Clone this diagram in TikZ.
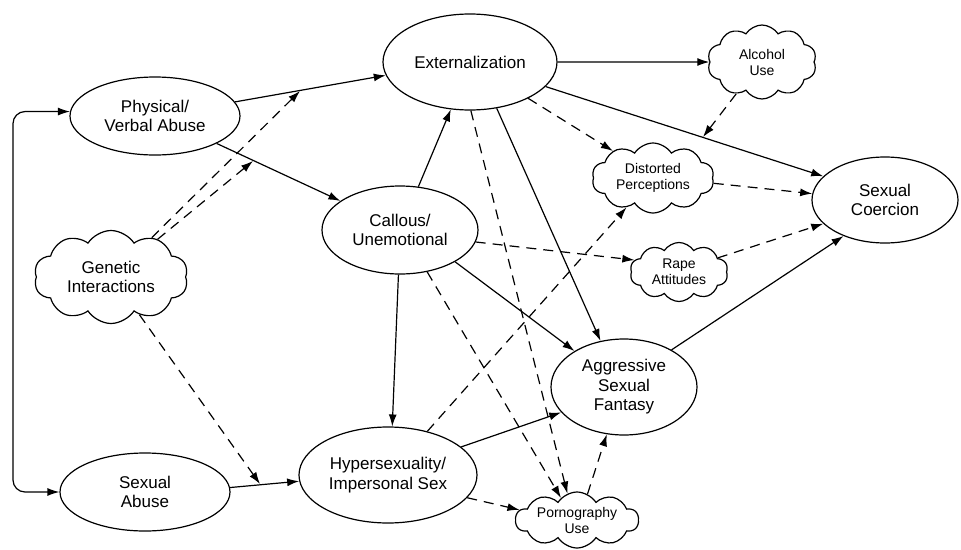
\documentclass[tikz,border=0pt]{standalone}
\usepackage{fontspec}
\setmainfont{Liberation Sans}
\usetikzlibrary{shapes.geometric,shapes.symbols,arrows.meta}
\begin{document}
\begin{tikzpicture}[x=1pt,y=-1pt,
  ell/.style={ellipse, draw, line width=1.2pt, inner sep=0pt, align=center, font=\fontsize{17}{19.5}\selectfont},
  cld/.style={cloud, cloud ignores aspect, draw, cloud puffs=10, cloud puff arc=115, inner sep=0pt, align=center, line width=1.2pt, font=\fontsize{14}{16}\selectfont},
  big/.style={font=\fontsize{17}{19.5}\selectfont},
  sol/.style={line width=1.2pt, -{Latex[length=12pt,width=8pt]}},
  dsh/.style={sol, dash pattern=on 10pt off 7pt}]
\useasboundingbox (0,0) rectangle (961,549);
% ellipses
\node[ell, minimum width=170pt, minimum height=78pt] (pva) at (155,116) {Physical/\\Verbal Abuse};
\node[ell, minimum width=174pt, minimum height=96pt] (ext) at (470,62) {Externalization};
\node[ell, minimum width=156pt, minimum height=88pt] (cal) at (400,230) {Callous/\\Unemotional};
\node[ell, minimum width=146pt, minimum height=86pt] (sc) at (885,200) {Sexual\\Coercion};
\node[ell, minimum width=170pt, minimum height=78pt] (sa) at (145,492) {Sexual\\Abuse};
\node[ell, minimum width=178pt, minimum height=96pt] (hyp) at (388,475) {Hypersexuality/\\Impersonal Sex};
\node[ell, minimum width=146pt, minimum height=96pt] (asf) at (624,387) {Aggressive\\Sexual\\Fantasy};
% clouds
\node[cld, big, minimum width=154pt, minimum height=93pt] (gen) at (111,277) {Genetic\\Interactions};
\node[cld, minimum width=109pt, minimum height=74pt] (alc) at (762,62) {Alcohol\\Use};
\node[cld, minimum width=122pt, minimum height=70pt] (dis) at (653,178) {Distorted\\Perceptions};
\node[cld, minimum width=98pt, minimum height=59pt] (rap) at (679,272) {Rape\\Attitudes};
\node[cld, minimum width=123pt, minimum height=56pt] (por) at (577,520) {Pornography\\Use};
% moderation targets
\coordinate (m1) at (300,91);
\coordinate (m2) at (253,161);
\coordinate (m3) at (260,484);
\coordinate (m4) at (703,137);
\coordinate (bx) at (13,300);
% bracket
\draw[line width=1.2pt, {Latex[length=12pt,width=8pt]}-{Latex[length=12pt,width=8pt]}, rounded corners=12pt] (pva.177) -| (bx) |- (sa.west);
% solid
\draw[sol] (pva.10) -- (ext.189);
\draw[sol] (pva.-24) -- (cal.154);
\draw[sol] (cal.67) -- (ext.-112);
\draw[sol] (cal.-92) -- (hyp.85);
\draw[sol] (cal.-30) -- (asf.144);
\draw[sol] (ext.east) -- (alc.west);
\draw[sol] (ext.-18) -- (sc.159);
\draw[sol] (ext.-60) -- (asf.117);
\draw[sol] (asf.38) -- (sc.-139);
\draw[sol] (hyp.21) -- (asf.-158);
\draw[sol] (sa.3) -- (hyp.184);
% dashed
\draw[dsh] (gen.44) -- (m1);
\draw[dsh] (gen.39) -- (m2);
\draw[dsh] (gen.-53) -- (m3);
\draw[dsh] (cal.-9) -- (rap.165);
\draw[dsh] (cal.-57) -- (por.126);
\draw[dsh] (ext.-32) -- (dis.146);
\draw[dsh] (ext.-89) -- (por.110);
\draw[dsh] (alc.-129) -- (m4);
\draw[dsh] (dis.-5) -- (sc.175);
\draw[dsh] (rap.20) -- (sc.201);
\draw[dsh] (hyp.48) -- (dis.-132);
\draw[dsh] (hyp.-16) -- (por.170);
\draw[dsh] (por.68) -- (asf.-110);
\end{tikzpicture}
\end{document}
